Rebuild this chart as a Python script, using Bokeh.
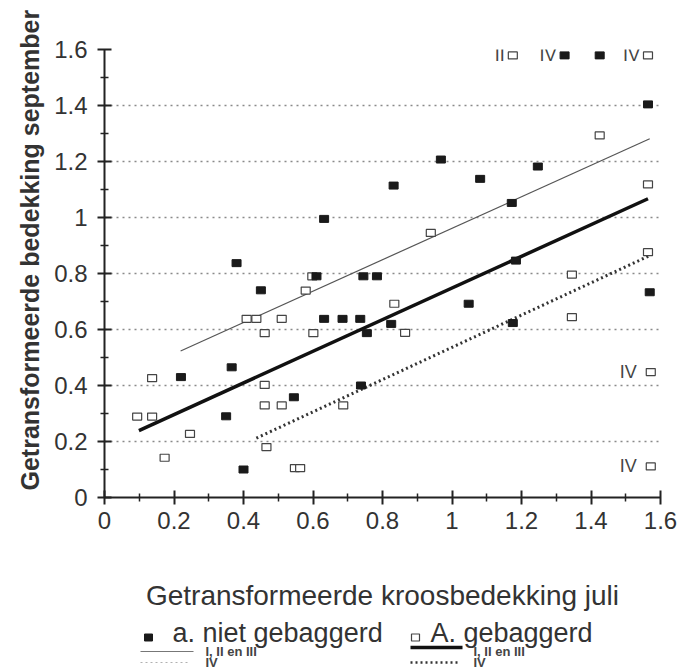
from bokeh.plotting import figure
from bokeh.models import FixedTicker, Range1d, Title
from bokeh.layouts import column
from bokeh.core.properties import value
from bokeh.embed import file_html
from bokeh.resources import INLINE

# ---- data ----
filled_x = [0.22, 0.38, 0.366, 0.45, 0.35, 0.40, 0.545, 0.61, 0.745, 0.784, 0.632, 0.685, 0.736,
            0.755, 0.738, 0.632, 0.832, 0.825, 0.968, 1.081, 1.247, 1.172, 1.184, 1.048, 1.175,
            1.569, 1.564, 1.324, 1.425]
filled_y = [0.43, 0.837, 0.465, 0.74, 0.29, 0.10, 0.358, 0.79, 0.79, 0.79, 0.638, 0.638, 0.638,
            0.587, 0.40, 0.995, 1.114, 0.62, 1.207, 1.138, 1.182, 1.052, 0.846, 0.692, 0.623,
            0.733, 1.404, 1.579, 1.579]

open_x = [1.175, 1.564, 1.425, 1.564, 0.939, 1.564, 1.345, 0.834, 0.865, 1.345, 1.572, 1.572,
          0.579, 0.409, 0.437, 0.51, 0.461, 0.601, 0.137, 0.461, 0.461, 0.51, 0.687, 0.094,
          0.137, 0.246, 0.173, 0.466, 0.548, 0.563, 0.598]
open_y = [1.579, 1.579, 1.293, 1.118, 0.945, 0.876, 0.796, 0.692, 0.588, 0.644, 0.448, 0.111,
          0.739, 0.638, 0.638, 0.638, 0.587, 0.587, 0.426, 0.402, 0.329, 0.329, 0.329, 0.289,
          0.289, 0.227, 0.142, 0.18, 0.105, 0.105, 0.79]

# regression lines (end points)
thin_line_x = [0.219, 1.569]      # niet gebaggerd I, II en III
thin_line_y = [0.523, 1.281]
thick_line_x = [0.099, 1.564]     # gebaggerd I, II en III
thick_line_y = [0.239, 1.067]
dot_line_x = [0.437, 1.569]       # gebaggerd IV
dot_line_y = [0.212, 0.864]

# point annotations
label_top_x = [1.175, 1.324, 1.564]
label_top_y = [1.579, 1.579, 1.579]
label_top_text = ["II", "IV", "IV"]
label_low_x = [1.572, 1.572]
label_low_y = [0.448, 0.111]
label_low_text = ["IV", "IV"]

x_ticks = [0, 0.2, 0.4, 0.6, 0.8, 1.0, 1.2, 1.4, 1.6]
x_tick_labels = ["0", "0.2", "0.4", "0.6", "0.8", "1", "1.2", "1.4", "1.6"]
minor_ticks = [0.1, 0.3, 0.5, 0.7, 0.9, 1.1, 1.3, 1.5]
y_ticks = [0, 0.2, 0.4, 0.6, 0.8, 1.0, 1.2, 1.4, 1.6]
y_tick_labels = ["0", "0.2", "0.4", "0.6", "0.8", "1", "1.2", "1.4", "1.6"]
grid_ticks = [0.2, 0.4, 0.6, 0.8, 1.0, 1.2, 1.4]

x_title = "Getransformeerde kroosbedekking juli"
y_title = "Getransformeerde bedekking september"
legend_points = ["a. niet gebaggerd", "A. gebaggerd"]
legend_lines = ["I, II en III", "I, II en III", "IV", "IV"]

FONT = "Liberation Sans"
TXT = "#333333"

p = figure(width=685, height=615, x_range=Range1d(0, 1.6), y_range=Range1d(0, 1.6),
           output_backend="svg", toolbar_location=None,
           min_border_left=104, min_border_right=25, min_border_top=49, min_border_bottom=118)
p.outline_line_color = None
p.background_fill_color = "white"
p.border_fill_color = "white"

p.xgrid.visible = False
p.ygrid.ticker = FixedTicker(ticks=grid_ticks)
p.ygrid.grid_line_color = "#8a8a8a"
p.ygrid.grid_line_dash = "2 4"
p.ygrid.grid_line_width = 1.5

for ax, ticks, labels in ((p.xaxis[0], x_ticks, x_tick_labels), (p.yaxis[0], y_ticks, y_tick_labels)):
    ax.ticker = FixedTicker(ticks=ticks, minor_ticks=minor_ticks)
    ax.major_label_overrides = {t: l for t, l in zip(ticks, labels)}
    ax.axis_line_color = "#222222"
    ax.axis_line_width = 2
    ax.major_tick_line_color = "#222222"
    ax.major_tick_line_width = 2
    ax.minor_tick_line_color = "#222222"
    ax.minor_tick_line_width = 1.5
    ax.major_tick_in = 7
    ax.major_tick_out = 7
    ax.minor_tick_in = 4
    ax.minor_tick_out = 4
    ax.major_label_text_font = FONT
    ax.major_label_text_font_size = "24px"
    ax.major_label_text_color = TXT
    ax.axis_label_text_font = FONT
    ax.axis_label_text_color = TXT

p.xaxis.major_label_standoff = 7
p.xaxis.axis_label = x_title
p.xaxis.axis_label_text_font_size = "28px"
p.xaxis.axis_label_text_font_style = "normal"
p.xaxis.axis_label_standoff = 48

p.yaxis.major_label_standoff = 10

# y-axis title as a side title, starting just above the frame bottom as in the reference
p.add_layout(Title(text=y_title, align="left", offset=7, standoff=16,
                   text_font=FONT, text_font_size="25px", text_font_style="bold",
                   text_color=TXT), "left")

# lines
p.line(thin_line_x, thin_line_y, line_color="#555555", line_width=1.2)
p.line(thick_line_x, thick_line_y, line_color="#111111", line_width=3.5)
p.line(dot_line_x, dot_line_y, line_color="#333333", line_width=3, line_dash="2 3")

# points
p.rect(open_x, open_y, width=9, height=7, width_units="screen", height_units="screen",
       fill_color="white", line_color="#444444", line_width=1.2)
p.rect(filled_x, filled_y, width=9, height=7, width_units="screen", height_units="screen",
       fill_color="#1a1a1a", line_color="#1a1a1a")

p.text(label_top_x, label_top_y, text=label_top_text, x_offset=-8, text_align="right",
       text_baseline="middle", text_font=value(FONT), text_font_size="18px",
       text_color="#444444")
p.text(label_low_x, label_low_y, text=label_low_text, x_offset=-14, text_align="right",
       text_baseline="middle", text_font=value(FONT), text_font_size="18px",
       text_color="#444444")

# ---- legend panel (frame is aligned with the main frame: pixels 104..660) ----
leg = figure(width=685, height=55, x_range=Range1d(104, 660), y_range=Range1d(55, 0),
             output_backend="svg", toolbar_location=None,
             min_border_left=104, min_border_right=25, min_border_top=0, min_border_bottom=0)
leg.axis.visible = False
leg.grid.visible = False
leg.outline_line_color = None

leg.rect([148], [22], width=8, height=7, fill_color="#1a1a1a", line_color="#1a1a1a")
leg.rect([415], [22], width=8, height=7, fill_color="white", line_color="#444444", line_width=1.2)
leg.text([172, 430], [17, 17], text=legend_points, text_baseline="middle",
         text_font=value(FONT), text_font_size="27px", text_color=TXT)

leg.line([140, 193], [36, 36], line_color="#777777", line_width=1.2)
leg.line([410, 462], [32, 32], line_color="#111111", line_width=3.5)
leg.line([140, 190], [47, 47], line_color="#b0b0b0", line_width=1.2, line_dash="2 3")
leg.line([410, 460], [47, 47], line_color="#333333", line_width=2.5, line_dash="2 3")
leg.text([205, 473, 205, 473], [36, 36, 47, 47], text=legend_lines,
         text_baseline="middle", text_font=value(FONT), text_font_size="13px",
         text_font_style="bold", text_color="#444444")

layout = column(p, leg, spacing=0)
open("out.html", "w").write(file_html(layout, INLINE))
